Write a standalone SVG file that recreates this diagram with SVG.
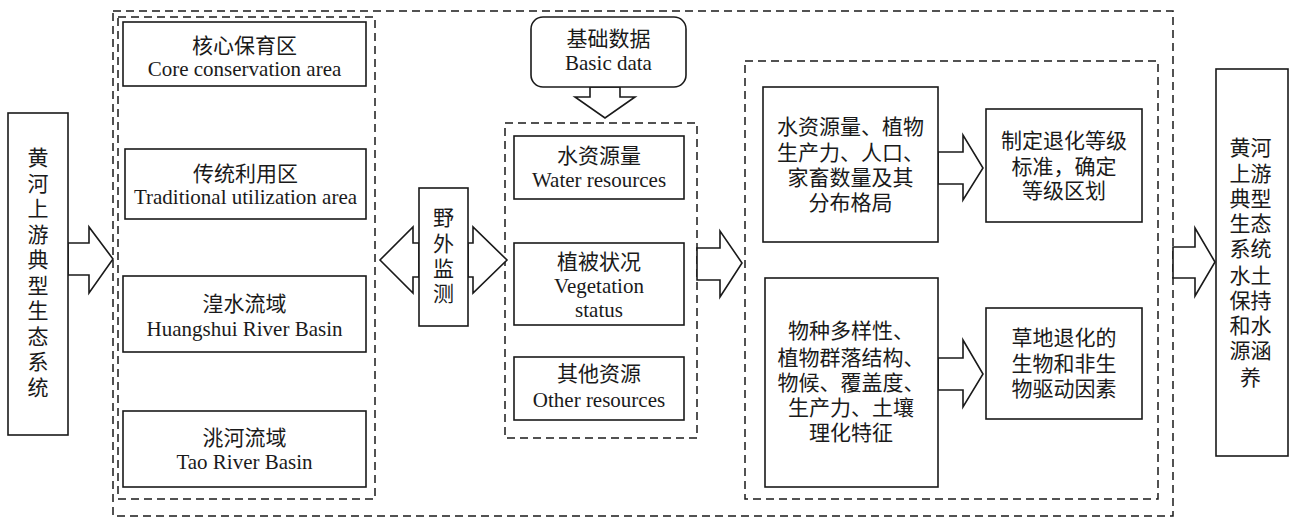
<svg xmlns="http://www.w3.org/2000/svg" width="1289" height="519" viewBox="0 0 1289 519">
<style>
.box{fill:#fff;stroke:#1a1a1a;stroke-width:1.6}
.dash{fill:none;stroke:#1a1a1a;stroke-width:1.5;stroke-dasharray:8 5}
.arr{fill:#fff;stroke:#1a1a1a;stroke-width:1.6;stroke-linejoin:miter}
text{font-family:"Liberation Serif","Noto Sans CJK SC",serif;font-size:21px;fill:#1a1a1a;text-anchor:middle}
</style>
<rect width="1289" height="519" fill="#fff"/>
<g id="frames">
<rect class="dash" x="113" y="11" width="1060" height="505"/>
<rect class="dash" x="118" y="17" width="257" height="482"/>
<rect class="dash" x="505" y="123" width="192" height="315"/>
<rect class="dash" x="745" y="61" width="413" height="438"/>
</g>
<g id="connectors">
<polygon class="arr" points="68,243 89,243 89,227 113,259 89,293 89,275 68,275"/>
<polygon class="arr" points="419,243 413,243 413,227 380,260 413,293 413,277 419,277"/>
<polygon class="arr" points="468,243 473,243 473,227 507,260 473,293 473,277 468,277"/>
<polygon class="arr" points="590,87 590,97 575,97 605,118 635,97 620,97 620,87"/>
<polygon class="arr" points="697,248 720,248 720,231 742,263 720,297 720,280 697,280"/>
<polygon class="arr" points="938,152 963,152 963,135 983,168 963,200 963,184 938,184"/>
<polygon class="arr" points="938,358 963,358 963,340 983,374 963,407 963,390 938,390"/>
<polygon class="arr" points="1173,247 1195,247 1195,228 1215,262 1195,296 1195,278 1173,278"/>
</g>
<g id="source">
<rect class="box" x="8" y="113" width="60" height="322"/>
<text x="38" y="165">黄</text><text x="38" y="191">河</text><text x="38" y="216">上</text><text x="38" y="242">游</text><text x="38" y="267">典</text><text x="38" y="293">型</text><text x="38" y="318">生</text><text x="38" y="344">态</text><text x="38" y="369">系</text><text x="38" y="395">统</text>
</g>
<g id="core">
<rect class="box" x="123" y="22" width="243" height="64"/>
<text x="244.5" y="53">核心保育区</text><text x="244.5" y="76">Core conservation area</text>
</g>
<g id="traditional">
<rect class="box" x="125" y="149" width="241" height="70"/>
<text x="245.5" y="181">传统利用区</text><text x="245.5" y="204">Traditional utilization area</text>
</g>
<g id="huangshui">
<rect class="box" x="123" y="276" width="243" height="76"/>
<text x="244.5" y="311">湟水流域</text><text x="244.5" y="336">Huangshui River Basin</text>
</g>
<g id="tao">
<rect class="box" x="123" y="411" width="243" height="76"/>
<text x="244.5" y="445">洮河流域</text><text x="244.5" y="469">Tao River Basin</text>
</g>
<g id="field">
<rect class="box" x="419" y="188" width="49" height="138"/>
<text x="443.5" y="225">野</text><text x="443.5" y="251">外</text><text x="443.5" y="276">监</text><text x="443.5" y="301">测</text>
</g>
<g id="basic">
<rect class="box" x="531" y="17" width="155" height="70" rx="12"/>
<text x="608.5" y="46">基础数据</text><text x="608.5" y="70">Basic data</text>
</g>
<g id="water">
<rect class="box" x="514" y="136" width="170" height="63"/>
<text x="599" y="163">水资源量</text><text x="599" y="187">Water resources</text>
</g>
<g id="vegetation">
<rect class="box" x="514" y="243" width="170" height="82"/>
<text x="599" y="269">植被状况</text><text x="599" y="293">Vegetation</text><text x="599" y="317">status</text>
</g>
<g id="other">
<rect class="box" x="514" y="357" width="170" height="63"/>
<text x="599" y="381">其他资源</text><text x="599" y="407">Other resources</text>
</g>
<g id="boxA">
<rect class="box" x="763" y="87" width="175" height="155"/>
<text x="850.5" y="134">水资源量、植物</text><text x="850.5" y="160">生产力、人口、</text><text x="850.5" y="185">家畜数量及其</text><text x="850.5" y="210">分布格局</text>
</g>
<g id="boxB">
<rect class="box" x="986" y="109" width="156" height="113"/>
<text x="1064" y="148">制定退化等级</text><text x="1064" y="174">标准，确定</text><text x="1064" y="198">等级区划</text>
</g>
<g id="boxC">
<rect class="box" x="765" y="278" width="173" height="209"/>
<text x="851" y="338">物种多样性、</text><text x="851" y="365">植物群落结构、</text><text x="851" y="390">物候、覆盖度、</text><text x="851" y="415">生产力、土壤</text><text x="851" y="440">理化特征</text>
</g>
<g id="boxD">
<rect class="box" x="986" y="308" width="156" height="111"/>
<text x="1064" y="345">草地退化的</text><text x="1064" y="371">生物和非生</text><text x="1064" y="396">物驱动因素</text>
</g>
<g id="result">
<rect class="box" x="1216" y="69" width="72" height="387"/>
<text x="1250.5" y="155">黄河</text><text x="1250.5" y="181">上游</text><text x="1250.5" y="206">典型</text><text x="1250.5" y="231">生态</text><text x="1250.5" y="256">系统</text><text x="1250.5" y="283">水土</text><text x="1250.5" y="308">保持</text><text x="1250.5" y="333">和水</text><text x="1250.5" y="358">源涵</text><text x="1250.5" y="385">养</text>
</g>
</svg>
